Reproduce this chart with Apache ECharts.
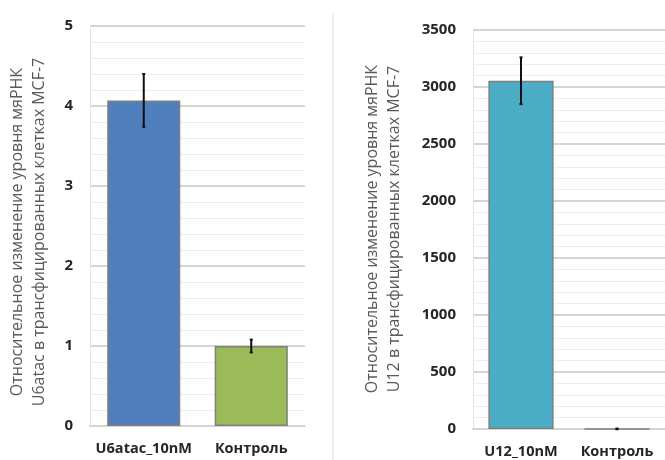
<!DOCTYPE html>
<html>
<head>
<meta charset="utf-8">
<script src="https://cdn.jsdelivr.net/npm/echarts@6/dist/echarts.min.js"></script>
<style>
  html, body { margin: 0; padding: 0; background: #ffffff; }
  #chart { width: 665px; height: 460px; }
</style>
</head>
<body>
<div id="chart"></div>
<script>
// Left panel: U6atac expression
const categoriesA = ['U6atac_10nM', 'Контроль'];
const valuesA = [4.07, 1.0];
const errorsA = [0.33, 0.08];
const ticksA = { min: 0, max: 5, interval: 1 };
const titleA = 'Относительное изменение уровня мяРНК\nU6atac в трансфицированных клетках MCF-7';

// Right panel: U12 expression
const categoriesB = ['U12_10nM', 'Контроль'];
const valuesB = [3055, 1];
const errorsB = [205, 3];
const ticksB = { min: 0, max: 3500, interval: 500 };
const titleB = 'Относительное изменение уровня мяРНК\nU12 в трансфицированных клетках MCF-7';

const colorsA = ['#4f7fbd', '#9bbb59'];
const colorsB = ['#4bacc6', '#4bacc6'];

const FONT = '"Open Sans", "Noto Sans", sans-serif';

function yAxis(gridIndex, t) {
  return {
    type: 'value', gridIndex: gridIndex,
    min: t.min, max: t.max, interval: t.interval,
    axisLine: { show: true, lineStyle: { color: '#e3e3e3', width: 1 } },
    axisTick: { show: false },
    axisLabel: {
      color: '#262626', fontWeight: 'bold', fontSize: 15, fontFamily: FONT, margin: 17,
      formatter: v => String(v)
    },
    splitLine: { show: true, lineStyle: { color: '#d4d4d4', width: 2 } },
    minorTick: { show: false, splitNumber: 5 },
    minorSplitLine: { show: true, lineStyle: { color: '#eeeeee', width: 1 } }
  };
}

function xAxis(gridIndex, cats) {
  return {
    type: 'category', gridIndex: gridIndex, data: cats,
    axisLine: { show: true, lineStyle: { color: '#d4d4d4', width: 2 } },
    axisTick: { show: false },
    axisLabel: {
      interval: 0, hideOverlap: false,
      color: '#262626', fontWeight: 'bold', fontSize: 14.5, fontFamily: FONT, margin: 15
    }
  };
}

function barSeries(axisIndex, values, colors, gap) {
  return {
    type: 'bar', xAxisIndex: axisIndex, yAxisIndex: axisIndex,
    barCategoryGap: gap,
    data: values.map((v, i) => ({
      value: v,
      itemStyle: { color: colors[i], borderColor: '#7f7f7f', borderWidth: 1.5 }
    })),
    z: 2
  };
}

function errorSeries(axisIndex, values, errors) {
  return {
    type: 'custom', xAxisIndex: axisIndex, yAxisIndex: axisIndex,
    data: values.map((v, i) => [i, v - errors[i], v + errors[i]]),
    renderItem: function (params, api) {
      const lo = api.coord([api.value(0), api.value(1)]);
      const hi = api.coord([api.value(0), api.value(2)]);
      const cap = 1.5;
      return {
        type: 'group',
        children: [
          { type: 'line', shape: { x1: hi[0], y1: hi[1], x2: lo[0], y2: lo[1] },
            style: { stroke: '#111111', lineWidth: 2 } },
          { type: 'line', shape: { x1: hi[0] - cap, y1: hi[1], x2: hi[0] + cap, y2: hi[1] },
            style: { stroke: '#111111', lineWidth: 2 } },
          { type: 'line', shape: { x1: lo[0] - cap, y1: lo[1], x2: lo[0] + cap, y2: lo[1] },
            style: { stroke: '#111111', lineWidth: 2 } }
        ]
      };
    },
    z: 5
  };
}

function axisTitle(x, y, text) {
  return {
    type: 'text', x: x, y: y, rotation: Math.PI / 2,
    style: {
      text: text, fill: '#595959', font: '16px ' + FONT,
      textAlign: 'center', textVerticalAlign: 'middle', lineHeight: 22
    }
  };
}

const chart = echarts.init(document.getElementById('chart'), null, { renderer: 'canvas' });
chart.setOption({
  backgroundColor: '#ffffff',
  animation: false,
  grid: [
    { left: 90, top: 26, width: 215, height: 400 },
    { left: 473, top: 30, width: 201, height: 399 }
  ],
  xAxis: [xAxis(0, categoriesA), xAxis(1, categoriesB)],
  yAxis: [yAxis(0, ticksA), yAxis(1, ticksB)],
  series: [
    barSeries(0, valuesA, colorsA, '32%'),
    errorSeries(0, valuesA, errorsA),
    barSeries(1, valuesB, colorsB, '32%'),
    errorSeries(1, valuesB, errorsB)
  ],
  graphic: [
    { type: 'rect', shape: { x: 332, y: 13, width: 2, height: 447 }, style: { fill: '#ececec' } },
    axisTitle(28, 232, titleA),
    axisTitle(383, 229, titleB)
  ]
});
</script>
</body>
</html>
